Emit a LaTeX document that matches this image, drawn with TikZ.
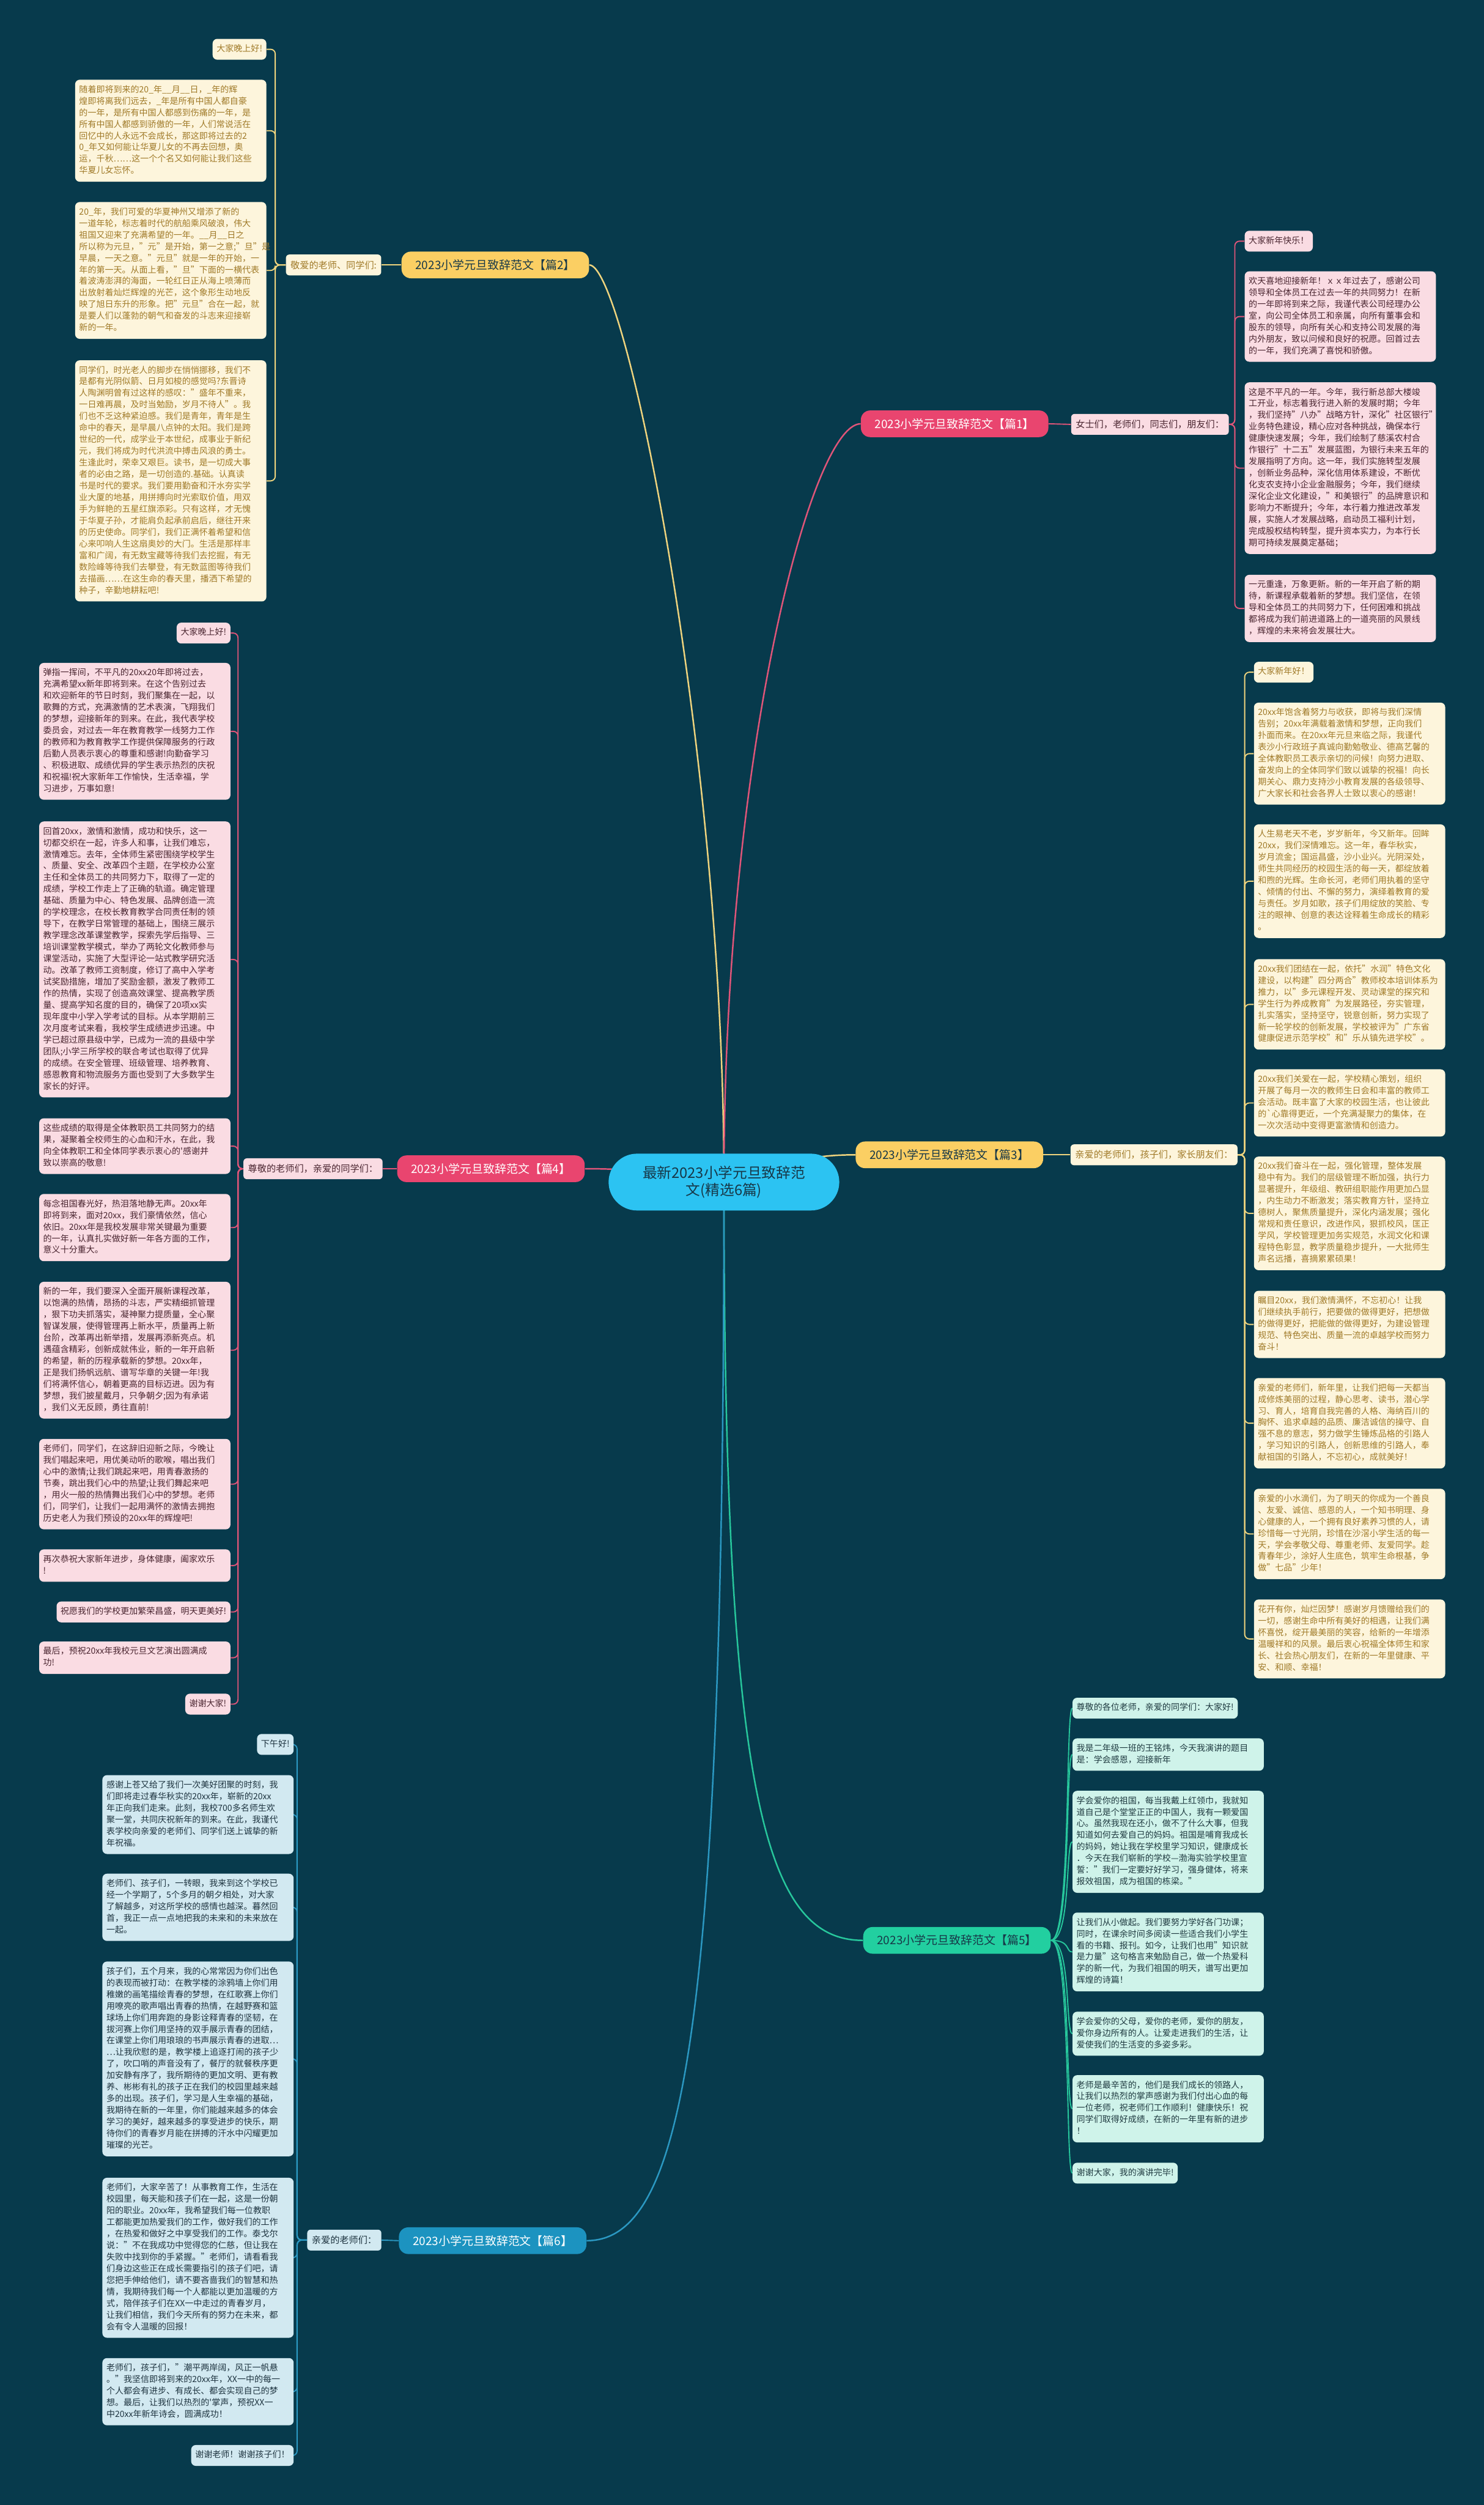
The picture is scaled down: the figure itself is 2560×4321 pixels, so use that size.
\documentclass[tikz,border=0pt]{standalone}
\usepackage{fontspec}
\setmainfont{Noto Sans CJK SC}
\definecolor{bgc}{HTML}{073A4C}
\definecolor{cenfill}{HTML}{2CC3F2}
\definecolor{centext}{HTML}{173848}
\definecolor{yfill}{HTML}{FBCF63}
\definecolor{ykid}{HTML}{FDF5DC}
\definecolor{ytext}{HTML}{A07A28}
\definecolor{yline}{HTML}{EFD47E}
\definecolor{pfill}{HTML}{E9456F}
\definecolor{pkid}{HTML}{FADCE3}
\definecolor{ptext}{HTML}{4A2530}
\definecolor{pline}{HTML}{E05579}
\definecolor{gfill}{HTML}{22CFA0}
\definecolor{gkid}{HTML}{CFF3EA}
\definecolor{gtext}{HTML}{1F3A40}
\definecolor{gline}{HTML}{27C79C}
\definecolor{bfill}{HTML}{1C93C0}
\definecolor{bkid}{HTML}{D2E9F1}
\definecolor{btext}{HTML}{1E3440}
\definecolor{bline}{HTML}{2B98C2}
\newcommand\kidfont{\fontsize{7.4}{10}\selectfont}
\newcommand\labfont{\fontsize{8}{10}\selectfont}
\newcommand\topfont{\fontsize{10}{12}\selectfont}
\pgfdeclarelayer{bg}
\pgfdeclarelayer{edges}
\pgfsetlayers{bg,edges,main}
\tikzset{
  kid/.style={rounded corners=4pt, inner xsep=3.5pt, inner ysep=4pt, align=left,
    font=\kidfont, execute at begin node=\strut, execute at end node=\strut},
  long/.style={text width=158pt},
  ybox/.style={kid, fill=ykid, text=ytext},
  pbox/.style={kid, fill=pkid, text=ptext},
  gbox/.style={kid, fill=gkid, text=gtext},
  bbox/.style={kid, fill=bkid, text=btext},
  topic/.style={rounded corners=8pt, inner xsep=12pt, minimum height=23pt, font=\topfont},
  lab/.style={rounded corners=3pt, inner xsep=4pt, minimum height=18pt, font=\labfont},
  twig/.style={line width=1pt, rounded corners=4pt},
  limb/.style={line width=1.3pt}
}
\begin{document}
\begin{tikzpicture}[x=0.5pt,y=-0.5pt]
\begin{pgfonlayer}{bg}
  \fill[bgc] (0,0) rectangle (2560,4321);
\end{pgfonlayer}
\useasboundingbox (0,0) rectangle (2560,4321);

% centre
\node[fill=cenfill, text=centext, rounded corners=24.5pt, minimum width=199pt,
  minimum height=49pt, align=center, font=\fontsize{12.5}{15}\selectfont]
  (c) at (1249,2039) {最新2023小学元旦致辞范\\文(精选6篇)};

% topics
\node[topic, fill=yfill, text=centext] (p2) at (854.5,457) {2023小学元旦致辞范文【篇2】};
\node[topic, fill=pfill, text=white] (p1) at (1647,731) {2023小学元旦致辞范文【篇1】};
\node[topic, fill=yfill, text=centext] (p3) at (1638,1992) {2023小学元旦致辞范文【篇3】};
\node[topic, fill=pfill, text=white] (p4) at (847,2016) {2023小学元旦致辞范文【篇4】};
\node[topic, fill=gfill, text=centext] (p5) at (1651,3347) {2023小学元旦致辞范文【篇5】};
\node[topic, fill=bfill, text=white] (p6) at (850,3865) {2023小学元旦致辞范文【篇6】};

% labels
\node[lab, fill=ykid, text=ytext] (l2) at (575.5,457) {敬爱的老师、同学们:};
\node[lab, fill=pkid, text=ptext] (l1) at (1984,732) {女士们，老师们，同志们，朋友们：};
\node[lab, fill=ykid, text=ytext] (l3) at (1991,1992) {亲爱的老师们，孩子们，家长朋友们：};
\node[lab, fill=pkid, text=ptext] (l4) at (540,2016) {尊敬的老师们，亲爱的同学们：};
\node[lab, fill=bkid, text=btext] (l6) at (594,3864) {亲爱的老师们：};

% 篇2
\node[ybox, anchor=east] (p2a) at (460,85) {大家晚上好!};
\node[ybox, long, anchor=east] (p2b) at (460,225.5) {随着即将到来的20\_年\_\_月\_\_日，\_年的辉\\
煌即将离我们远去，\_年是所有中国人都自豪\\
的一年，是所有中国人都感到伤痛的一年，是\\
所有中国人都感到骄傲的一年，人们常说活在\\
回忆中的人永远不会成长，那这即将过去的2\\
0\_年又如何能让华夏儿女的不再去回想，奥\\
运，千秋……这一个个名又如何能让我们这些\\
华夏儿女忘怀。};
\node[ybox, long, anchor=east] (p2c) at (460,466.5) {20\_年，我们可爱的华夏神州又增添了新的\\
一道年轮，标志着时代的航船乘风破浪，伟大\\
祖国又迎来了充满希望的一年。\_\_月\_\_日之\\
所以称为元旦，"元"是开始，第一之意;"旦"是\\
早晨，一天之意。"元旦"就是一年的开始，一\\
年的第一天。从面上看，"旦"下面的一横代表\\
着波涛澎湃的海面，一轮红日正从海上喷薄而\\
出放射着灿烂辉煌的光芒，这个象形生动地反\\
映了旭日东升的形象。把"元旦"合在一起，就\\
是要人们以蓬勃的朝气和奋发的斗志来迎接崭\\
新的一年。};
\node[ybox, long, anchor=east] (p2d) at (460,829.5) {同学们，时光老人的脚步在悄悄挪移，我们不\\
是都有光阴似箭、日月如梭的感觉吗?东晋诗\\
人陶渊明曾有过这样的感叹："盛年不重来，\\
一日难再晨，及时当勉励，岁月不待人"。我\\
们也不乏这种紧迫感。我们是青年，青年是生\\
命中的春天，是早晨八点钟的太阳。我们是跨\\
世纪的一代，成学业于本世纪，成事业于新纪\\
元，我们将成为时代洪流中搏击风浪的勇士。\\
生逢此时，荣幸又艰巨。读书，是一切成大事\\
者的必由之路，是一切创造的.基础。认真读\\
书是时代的要求。我们要用勤奋和汗水夯实学\\
业大厦的地基，用拼搏向时光索取价值，用双\\
手为鲜艳的五星红旗添彩。只有这样，才无愧\\
于华夏子孙，才能肩负起承前启后，继往开来\\
的历史使命。同学们，我们正满怀着希望和信\\
心来叩响人生这扇奥妙的大门。生活是那样丰\\
富和广阔，有无数宝藏等待我们去挖掘，有无\\
数险峰等待我们去攀登，有无数蓝图等待我们\\
去描画……在这生命的春天里，播洒下希望的\\
种子，辛勤地耕耘吧!};

% 篇1
\node[pbox, anchor=west] (p1a) at (2147,416) {大家新年快乐！};
\node[pbox, long, anchor=west] (p1b) at (2147,546) {欢天喜地迎接新年！ｘｘ年过去了，感谢公司\\
领导和全体员工在过去一年的共同努力！在新\\
的一年即将到来之际，我谨代表公司经理办公\\
室，向公司全体员工和亲属，向所有董事会和\\
股东的领导，向所有关心和支持公司发展的海\\
内外朋友，致以问候和良好的祝愿。回首过去\\
的一年，我们充满了喜悦和骄傲。};
\node[pbox, long, anchor=west] (p1c) at (2147,807.5) {这是不平凡的一年。今年，我行新总部大楼竣\\
工开业，标志着我行进入新的发展时期；今年\\
，我们坚持"八办"战略方针，深化"社区银行"\\
业务特色建设，精心应对各种挑战，确保本行\\
健康快速发展；今年，我们绘制了慈溪农村合\\
作银行"十二五"发展蓝图，为银行未来五年的\\
发展指明了方向。这一年，我们实施转型发展\\
，创新业务品种，深化信用体系建设，不断优\\
化支农支持小企业金融服务；今年，我们继续\\
深化企业文化建设，"和美银行"的品牌意识和\\
影响力不断提升；今年，本行着力推进改革发\\
展，实施人才发展战略，启动员工福利计划，\\
完成股权结构转型，提升资本实力，为本行长\\
期可持续发展奠定基础；};
\node[pbox, long, anchor=west] (p1d) at (2147,1049.5) {一元重逢，万象更新。新的一年开启了新的期\\
待，新课程承载着新的梦想。我们坚信，在领\\
导和全体员工的共同努力下，任何困难和挑战\\
都将成为我们前进道路上的一道亮丽的风景线\\
，辉煌的未来将会发展壮大。};

% 篇3
\node[ybox, anchor=west] (p3a) at (2163,1159.5) {大家新年好！};
\node[ybox, long, anchor=west] (p3b) at (2163,1300) {20xx年饱含着努力与收获，即将与我们深情\\
告别；20xx年满载着激情和梦想，正向我们\\
扑面而来。在20xx年元旦来临之际，我谨代\\
表沙小行政班子真诚向勤勉敬业、德高艺馨的\\
全体教职员工表示亲切的问候！向努力进取、\\
奋发向上的全体同学们致以诚挚的祝福！向长\\
期关心、鼎力支持沙小教育发展的各级领导、\\
广大家长和社会各界人士致以衷心的感谢！};
\node[ybox, long, anchor=west] (p3c) at (2163,1520) {人生易老天不老，岁岁新年，今又新年。回眸\\
20xx，我们深情难忘。这一年，春华秋实，\\
岁月流金；国运昌盛，沙小业兴。光阴深处，\\
师生共同经历的校园生活的每一天，都绽放着\\
和煦的光辉。生命长河，老师们用执着的坚守\\
、倾情的付出、不懈的努力，演绎着教育的爱\\
与责任。岁月如歌，孩子们用绽放的笑脸、专\\
注的眼神、创意的表达诠释着生命成长的精彩\\
。};
\node[ybox, long, anchor=west] (p3d) at (2163,1732.5) {20xx我们团结在一起，依托"水润"特色文化\\
建设，以构建"四分两合"教师校本培训体系为\\
推力，以"多元课程开发、灵动课堂的探究和\\
学生行为养成教育"为发展路径，夯实管理，\\
扎实落实，坚持坚守，锐意创新，努力实现了\\
新一轮学校的创新发展，学校被评为"广东省\\
健康促进示范学校"和"乐从镇先进学校"。};
\node[ybox, long, anchor=west] (p3e) at (2163,1902.5) {20xx我们关爱在一起，学校精心策划，组织\\
开展了每月一次的教师生日会和丰富的教师工\\
会活动。既丰富了大家的校园生活，也让彼此\\
的\textasciigrave 心靠得更近，一个充满凝聚力的集体，在\\
一次次活动中变得更富激情和创造力。};
\node[ybox, long, anchor=west] (p3f) at (2163,2093) {20xx我们奋斗在一起，强化管理，整体发展\\
稳中有为。我们的层级管理不断加强，执行力\\
显著提升，年级组、教研组职能作用更加凸显\\
，内生动力不断激发；落实教育方针，坚持立\\
德树人，聚焦质量提升，深化内涵发展；强化\\
常规和责任意识，改进作风，狠抓校风，匡正\\
学风，学校管理更加务实规范，水润文化和课\\
程特色彰显，教学质量稳步提升，一大批师生\\
声名远播，喜摘累累硕果！};
\node[ybox, long, anchor=west] (p3g) at (2163,2284.5) {瞩目20xx，我们激情满怀，不忘初心！让我\\
们继续执手前行，把要做的做得更好，把想做\\
的做得更好，把能做的做得更好，为建设管理\\
规范、特色突出、质量一流的卓越学校而努力\\
奋斗！};
\node[ybox, long, anchor=west] (p3h) at (2163,2455) {亲爱的老师们，新年里，让我们把每一天都当\\
成修炼美丽的过程，静心思考、读书，潜心学\\
习、育人，培育自我完善的人格、海纳百川的\\
胸怀、追求卓越的品质、廉洁诚信的操守、自\\
强不息的意志，努力做学生锤炼品格的引路人\\
，学习知识的引路人，创新思维的引路人，奉\\
献祖国的引路人，不忘初心，成就美好！};
\node[ybox, long, anchor=west] (p3i) at (2163,2646) {亲爱的小水滴们，为了明天的你成为一个善良\\
、友爱、诚信、感恩的人，一个知书明理、身\\
心健康的人，一个拥有良好素养习惯的人，请\\
珍惜每一寸光阴，珍惜在沙滘小学生活的每一\\
天，学会孝敬父母、尊重老师、友爱同学。趁\\
青春年少，涂好人生底色，筑牢生命根基，争\\
做"七品"少年！};
\node[ybox, long, anchor=west] (p3j) at (2163,2827) {花开有你，灿烂因梦！感谢岁月馈赠给我们的\\
一切，感谢生命中所有美好的相遇，让我们满\\
怀喜悦，绽开最美丽的笑容，给新的一年增添\\
温暖祥和的风景。最后衷心祝福全体师生和家\\
长、社会热心朋友们，在新的一年里健康、平\\
安、和顺、幸福！};

% 篇4
\node[pbox, anchor=east] (p4a) at (398,1092) {大家晚上好!};
\node[pbox, long, anchor=east] (p4b) at (398,1261.5) {弹指一挥间，不平凡的20xx20年即将过去，\\
充满希望xx新年即将到来。在这个告别过去\\
和欢迎新年的节日时刻，我们聚集在一起，以\\
歌舞的方式，充满激情的艺术表演，飞翔我们\\
的梦想，迎接新年的到来。在此，我代表学校\\
委员会，对过去一年在教育教学一线努力工作\\
的教师和为教育教学工作提供保障服务的行政\\
后勤人员表示衷心的尊重和感谢!向勤奋学习\\
、积极进取、成绩优异的学生表示热烈的庆祝\\
和祝福!祝大家新年工作愉快，生活幸福，学\\
习进步，万事如意!};
\node[pbox, long, anchor=east] (p4c) at (398,1655) {回首20xx，激情和激情，成功和快乐，这一\\
切都交织在一起，许多人和事，让我们难忘，\\
激情难忘。去年，全体师生紧密围绕学校学生\\
、质量、安全、改革四个主题，在学校办公室\\
主任和全体员工的共同努力下，取得了一定的\\
成绩，学校工作走上了正确的轨道。确定管理\\
基础、质量为中心、特色发展、品牌创造一流\\
的学校理念，在校长教育教学合同责任制的领\\
导下，在教学日常管理的基础上，围绕三展示\\
教学理念改革课堂教学，探索先学后指导、三\\
培训课堂教学模式，举办了两轮文化教师参与\\
课堂活动，实施了大型评论一站式教学研究活\\
动。改革了教师工资制度，修订了高中入学考\\
试奖励措施，增加了奖励金额，激发了教师工\\
作的热情，实现了创造高效课堂、提高教学质\\
量、提高学知名度的目的，确保了20项xx实\\
现年度中小学入学考试的目标。从本学期前三\\
次月度考试来看，我校学生成绩进步迅速。中\\
学已超过原县级中学，已成为一流的县级中学\\
团队;小学三所学校的联合考试也取得了优异\\
的成绩。在安全管理、班级管理、培养教育、\\
感恩教育和物流服务方面也受到了大多数学生\\
家长的好评。};
\node[pbox, long, anchor=east] (p4d) at (398,1977) {这些成绩的取得是全体教职员工共同努力的结\\
果，凝聚着全校师生的心血和汗水，在此，我\\
向全体教职工和全体同学表示衷心的\textquotesingle 感谢并\\
致以崇高的敬意!};
\node[pbox, long, anchor=east] (p4e) at (398,2117.5) {每念祖国春光好，热泪落地静无声。20xx年\\
即将到来，面对20xx，我们豪情依然，信心\\
依旧。20xx年是我校发展非常关键最为重要\\
的一年，认真扎实做好新一年各方面的工作，\\
意义十分重大。};
\node[pbox, long, anchor=east] (p4f) at (398,2329) {新的一年，我们要深入全面开展新课程改革，\\
以饱满的热情，昂扬的斗志，严实精细抓管理\\
，狠下功夫抓落实，凝神聚力提质量，全心聚\\
智谋发展，使得管理再上新水平，质量再上新\\
台阶，改革再出新举措，发展再添新亮点。机\\
遇蕴含精彩，创新成就伟业，新的一年开启新\\
的希望，新的历程承载新的梦想。20xx年，\\
正是我们扬帆远航、谱写华章的关键一年!我\\
们将满怀信心，朝着更高的目标迈进。因为有\\
梦想，我们披星戴月，只争朝夕;因为有承诺\\
，我们义无反顾，勇往直前!};
\node[pbox, long, anchor=east] (p4g) at (398,2560) {老师们，同学们，在这辞旧迎新之际，今晚让\\
我们唱起来吧，用优美动听的歌喉，唱出我们\\
心中的激情;让我们跳起来吧，用青春激扬的\\
节奏，跳出我们心中的热望;让我们舞起来吧\\
，用火一般的热情舞出我们心中的梦想。老师\\
们，同学们，让我们一起用满怀的激情去拥抱\\
历史老人为我们预设的20xx年的辉煌吧!};
\node[pbox, long, anchor=east] (p4h) at (398,2700.5) {再次恭祝大家新年进步，身体健康，阖家欢乐\\
!};
\node[pbox, anchor=east] (p4i) at (398,2780.5) {祝愿我们的学校更加繁荣昌盛，明天更美好!};
\node[pbox, long, anchor=east] (p4j) at (398,2859.5) {最后，预祝20xx年我校元旦文艺演出圆满成\\
功!};
\node[pbox, anchor=east] (p4k) at (398,2939.5) {谢谢大家!};

% 篇5
\node[gbox, anchor=west] (p5a) at (1850,2946.5) {尊敬的各位老师，亲爱的同学们：大家好!};
\node[gbox, long, anchor=west] (p5b) at (1850,3026.5) {我是二年级一班的王铭炜，今天我演讲的题目\\
是：学会感恩，迎接新年};
\node[gbox, long, anchor=west] (p5c) at (1850,3177) {学会爱你的祖国，每当我戴上红领巾，我就知\\
道自己是个堂堂正正的中国人，我有一颗爱国\\
心。虽然我现在还小，做不了什么大事，但我\\
知道如何去爱自己的妈妈。祖国是哺育我成长\\
的妈妈，她让我在学校里学习知识，健康成长\\
．今天在我们崭新的学校—渤海实验学校里宣\\
誓："我们一定要好好学习，强身健体，将来\\
报效祖国，成为祖国的栋梁。"};
\node[gbox, long, anchor=west] (p5d) at (1850,3367) {让我们从小做起。我们要努力学好各门功课；\\
同时，在课余时间多阅读一些适合我们小学生\\
看的书籍、报刊。如今，让我们也用"知识就\\
是力量"这句格言来勉励自己，做一个热爱科\\
学的新一代，为我们祖国的明天，谱写出更加\\
辉煌的诗篇！};
\node[gbox, long, anchor=west] (p5e) at (1850,3508) {学会爱你的父母，爱你的老师，爱你的朋友，\\
爱你身边所有的人。让爱走进我们的生活，让\\
爱使我们的生活变的多姿多彩。};
\node[gbox, long, anchor=west] (p5f) at (1850,3637.5) {老师是最辛苦的，他们是我们成长的领路人，\\
让我们以热烈的掌声感谢为我们付出心血的每\\
一位老师，祝老师们工作顺利！健康快乐！祝\\
同学们取得好成绩，在新的一年里有新的进步\\
！};
\node[gbox, anchor=west] (p5g) at (1850,3748.5) {谢谢大家，我的演讲完毕!};

% 篇6
\node[bbox, anchor=east] (p6a) at (507,3009) {下午好!};
\node[bbox, long, anchor=east] (p6b) at (507,3130) {感谢上苍又给了我们一次美好团聚的时刻，我\\
们即将走过春华秋实的20xx年，崭新的20xx\\
年正向我们走来。此刻，我校700多名师生欢\\
聚一堂，共同庆祝新年的到来。在此，我谨代\\
表学校向亲爱的老师们、同学们送上诚挚的新\\
年祝福。};
\node[bbox, long, anchor=east] (p6c) at (507,3290) {老师们、孩子们，一转眼，我来到这个学校已\\
经一个学期了，5个多月的朝夕相处，对大家\\
了解越多，对这所学校的感情也越深。暮然回\\
首，我正一点一点地把我的未来和的未来放在\\
一起。};
\node[bbox, long, anchor=east] (p6d) at (507,3551.5) {孩子们，五个月来，我的心常常因为你们出色\\
的表现而被打动：在教学楼的涂鸦墙上你们用\\
稚嫩的画笔描绘青春的梦想，在红歌赛上你们\\
用嘹亮的歌声唱出青春的热情，在越野赛和篮\\
球场上你们用奔跑的身影诠释青春的坚韧，在\\
拔河赛上你们用坚持的双手展示青春的团结，\\
在课堂上你们用琅琅的书声展示青春的进取…\\
…让我欣慰的是，教学楼上追逐打闹的孩子少\\
了，吹口哨的声音没有了，餐厅的就餐秩序更\\
加安静有序了，我所期待的更加文明、更有教\\
养、彬彬有礼的孩子正在我们的校园里越来越\\
多的出现。孩子们，学习是人生幸福的基础，\\
我期待在新的一年里，你们能越来越多的体会\\
学习的美好，越来越多的享受进步的快乐，期\\
待你们的青春岁月能在拼搏的汗水中闪耀更加\\
璀璨的光芒。};
\node[bbox, long, anchor=east] (p6e) at (507,3894.5) {老师们，大家辛苦了！从事教育工作，生活在\\
校园里，每天能和孩子们在一起，这是一份朝\\
阳的职业。20xx年，我希望我们每一位教职\\
工都能更加热爱我们的工作，做好我们的工作\\
，在热爱和做好之中享受我们的工作。泰戈尔\\
说："不在我成功中觉得您的仁慈，但让我在\\
失败中找到你的手紧握。"老师们，请看看我\\
们身边这些正在成长需要指引的孩子们吧，请\\
您把手伸给他们，请不要吝啬我们的智慧和热\\
情，我期待我们每一个人都能以更加温暖的方\\
式，陪伴孩子们在XX一中走过的青春岁月，\\
让我们相信，我们今天所有的努力在未来，都\\
会有令人温暖的回报！};
\node[bbox, long, anchor=east] (p6f) at (507,4125.5) {老师们，孩子们，"潮平两岸阔，风正一帆悬\\
。"我坚信即将到来的20xx年，XX一中的每一\\
个人都会有进步、有成长、都会实现自己的梦\\
想。最后，让我们以热烈的\textquotesingle 掌声，预祝XX一\\
中20xx年新年诗会，圆满成功！};
\node[bbox, anchor=east] (p6g) at (507,4235.5) {谢谢老师！谢谢孩子们！};

\begin{pgfonlayer}{edges}
  % centre to topics
  \draw[limb, yline] (c.center) .. controls (1249,1300) and (1080,457) .. (p2.east);
  \draw[limb, pline] (c.center) .. controls (1249,1300) and (1400,731) .. (p1.west);
  \draw[limb, yline] (c.center) .. controls (1330,2039) and (1330,1992) .. (p3.west);
  \draw[limb, pline] (c.center) .. controls (1170,2039) and (1170,2016) .. (p4.east);
  \draw[limb, gline] (c.center) .. controls (1249,3100) and (1320,3347) .. (p5.west);
  \draw[limb, bline] (c.center) .. controls (1249,3500) and (1180,3865) .. (p6.east);
  % topics to labels
  \draw[twig, yline] (p2.west) -- (l2.east);
  \draw[twig, pline] (p1.east) -- (l1.west);
  \draw[twig, yline] (p3.east) -- (l3.west);
  \draw[twig, pline] (p4.west) -- (l4.east);
  \draw[twig, bline] (p6.west) -- (l6.east);
  % 篇2
  \draw[twig, yline] (l2.west) -- ++(-18,0) |- (p2a.east);
  \draw[twig, yline] (l2.west) -- ++(-18,0) |- (p2b.east);
  \draw[twig, yline] (l2.west) -- ++(-18,0) |- (p2c.east);
  \draw[twig, yline] (l2.west) -- ++(-18,0) |- (p2d.east);
  % 篇1
  \draw[twig, pline] (l1.east) -- ++(10,0) |- (p1a.west);
  \draw[twig, pline] (l1.east) -- ++(10,0) |- (p1b.west);
  \draw[twig, pline] (l1.east) -- ++(10,0) |- (p1c.west);
  \draw[twig, pline] (l1.east) -- ++(10,0) |- (p1d.west);
  % 篇3
  \draw[twig, yline] (l3.east) -- ++(12,0) |- (p3a.west);
  \draw[twig, yline] (l3.east) -- ++(12,0) |- (p3b.west);
  \draw[twig, yline] (l3.east) -- ++(12,0) |- (p3c.west);
  \draw[twig, yline] (l3.east) -- ++(12,0) |- (p3d.west);
  \draw[twig, yline] (l3.east) -- ++(12,0) |- (p3e.west);
  \draw[twig, yline] (l3.east) -- ++(12,0) |- (p3f.west);
  \draw[twig, yline] (l3.east) -- ++(12,0) |- (p3g.west);
  \draw[twig, yline] (l3.east) -- ++(12,0) |- (p3h.west);
  \draw[twig, yline] (l3.east) -- ++(12,0) |- (p3i.west);
  \draw[twig, yline] (l3.east) -- ++(12,0) |- (p3j.west);
  % 篇4
  \draw[twig, pline] (l4.west) -- ++(-9,0) |- (p4a.east);
  \draw[twig, pline] (l4.west) -- ++(-9,0) |- (p4b.east);
  \draw[twig, pline] (l4.west) -- ++(-9,0) |- (p4c.east);
  \draw[twig, pline] (l4.west) -- ++(-9,0) |- (p4d.east);
  \draw[twig, pline] (l4.west) -- ++(-9,0) |- (p4e.east);
  \draw[twig, pline] (l4.west) -- ++(-9,0) |- (p4f.east);
  \draw[twig, pline] (l4.west) -- ++(-9,0) |- (p4g.east);
  \draw[twig, pline] (l4.west) -- ++(-9,0) |- (p4h.east);
  \draw[twig, pline] (l4.west) -- ++(-9,0) |- (p4i.east);
  \draw[twig, pline] (l4.west) -- ++(-9,0) |- (p4j.east);
  \draw[twig, pline] (l4.west) -- ++(-9,0) |- (p4k.east);
  % 篇5
  \draw[twig, gline] (p5.east) .. controls +(35,0) and +(-12,0) .. (p5a.west);
  \draw[twig, gline] (p5.east) .. controls +(35,0) and +(-12,0) .. (p5b.west);
  \draw[twig, gline] (p5.east) .. controls +(35,0) and +(-12,0) .. (p5c.west);
  \draw[twig, gline] (p5.east) .. controls +(35,0) and +(-12,0) .. (p5d.west);
  \draw[twig, gline] (p5.east) .. controls +(35,0) and +(-12,0) .. (p5e.west);
  \draw[twig, gline] (p5.east) .. controls +(35,0) and +(-12,0) .. (p5f.west);
  \draw[twig, gline] (p5.east) .. controls +(35,0) and +(-12,0) .. (p5g.west);
  % 篇6
  \draw[twig, bline] (l6.west) -- ++(-17,0) |- (p6a.east);
  \draw[twig, bline] (l6.west) -- ++(-17,0) |- (p6b.east);
  \draw[twig, bline] (l6.west) -- ++(-17,0) |- (p6c.east);
  \draw[twig, bline] (l6.west) -- ++(-17,0) |- (p6d.east);
  \draw[twig, bline] (l6.west) -- ++(-17,0) |- (p6e.east);
  \draw[twig, bline] (l6.west) -- ++(-17,0) |- (p6f.east);
  \draw[twig, bline] (l6.west) -- ++(-17,0) |- (p6g.east);
\end{pgfonlayer}
\end{tikzpicture}
\end{document}
